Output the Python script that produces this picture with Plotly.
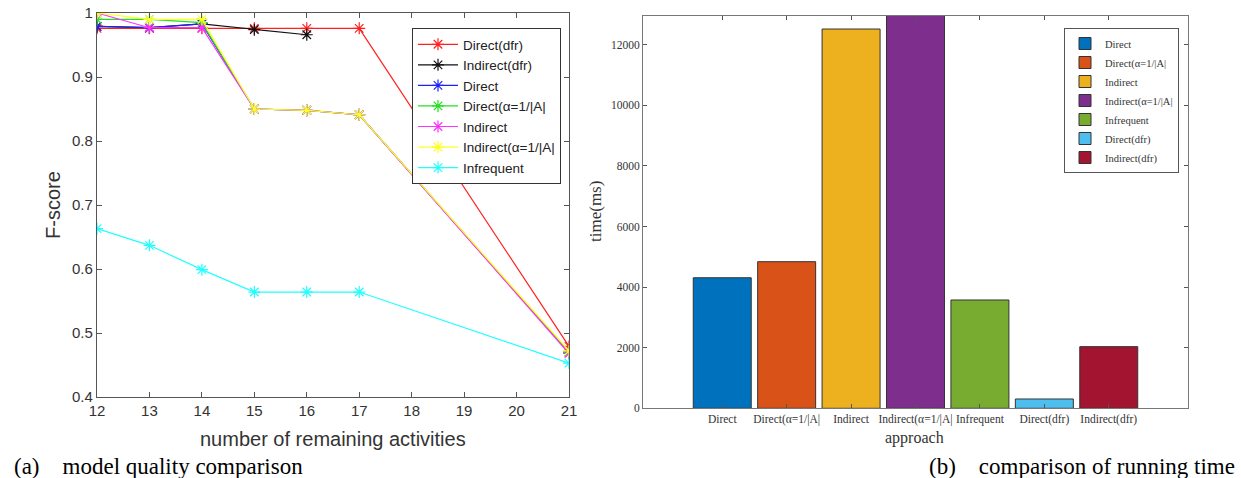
import plotly.graph_objects as go

W, H = 1241, 478

# ---- left chart data ----
x_acts = [12, 13, 14, 15, 16, 17, 21]
x_black = [12, 13, 14, 15, 16]
direct_dfr = [0.976, 0.976, 0.976, 0.976, 0.976, 0.976, 0.479]
indirect_dfr = [0.979, 0.977, 0.983, 0.974, 0.966]
direct = [0.979, 0.977, 0.983, 0.850, 0.848, 0.841, 0.470]
direct_alpha = [0.990, 0.990, 0.985, 0.850, 0.848, 0.841, 0.470]
indirect = [1.000, 0.977, 0.977, 0.850, 0.848, 0.841, 0.468]
indirect_alpha = [1.000, 0.990, 0.990, 0.850, 0.848, 0.841, 0.472]
infrequent = [0.663, 0.637, 0.599, 0.564, 0.564, 0.564, 0.453]

line_names = ["Direct(dfr)", "Indirect(dfr)", "Direct", "Direct(α=1/|A|",
              "Indirect", "Indirect(α=1/|A|", "Infrequent"]
line_x = [x_acts, x_black, x_acts, x_acts, x_acts, x_acts, x_acts]
line_y = [direct_dfr, indirect_dfr, direct, direct_alpha, indirect, indirect_alpha, infrequent]
line_colors = ["#ff2020", "#101010", "#2020ff", "#20e020", "#ff30ff", "#ffff20", "#20ffff"]

# ---- right chart data ----
approaches = ["Direct", "Direct(α=1/|A|", "Indirect", "Indirect(α=1/|A|",
              "Infrequent", "Direct(dfr)", "Indirect(dfr)"]
times_ms = [4310, 4840, 12520, 12980, 3575, 307, 2035]
bar_colors = ["#0072BD", "#D95319", "#EDB120", "#7E2F8E", "#77AC30", "#4DBEEE", "#A2142F"]

fig = go.Figure()

for nm, xs, ys, c in zip(line_names, line_x, line_y, line_colors):
    fig.add_trace(go.Scatter(
        x=xs, y=ys, name=nm, mode="lines+markers",
        line=dict(color=c, width=1.2),
        marker=dict(symbol="asterisk-open", size=10, color=c, line=dict(color=c, width=1.2)),
        xaxis="x", yaxis="y", legend="legend"))

for nm, t, c in zip(approaches, times_ms, bar_colors):
    fig.add_trace(go.Bar(
        x=[nm], y=[t], name=nm, marker=dict(color=c, line=dict(color="#333333", width=1)),
        width=0.9, xaxis="x2", yaxis="y2", legend="legend2"))

def px_x(p):
    return p / W

def px_y(p):
    return (H - p) / H

axis_line = "#555555"
sans = "Liberation Sans, Arial, sans-serif"
serif = "Liberation Serif, Times New Roman, serif"

def ann(text, x, y, font, angle=0, xanchor="center"):
    return dict(text=text, x=px_x(x), y=px_y(y), xref="paper", yref="paper",
                xanchor=xanchor, yanchor="middle", showarrow=False,
                textangle=angle, font=font)

fig.update_layout(
    width=W, height=H, margin=dict(l=0, r=0, t=0, b=0, autoexpand=False),
    paper_bgcolor="white", plot_bgcolor="white",
    barmode="overlay", showlegend=True,
    xaxis=dict(domain=[px_x(97), px_x(569)], anchor="y", range=[12, 21], dtick=1, tick0=12,
               ticks="inside", ticklen=5, tickcolor=axis_line, showline=True, linecolor=axis_line,
               linewidth=1.3, mirror="ticks", showgrid=False, zeroline=False, automargin=False,
               tickfont=dict(family=sans, size=15, color="#333333")),
    yaxis=dict(domain=[px_y(397), px_y(13)], anchor="x", range=[0.4, 1.0], dtick=0.1, tick0=0.4,
               ticks="inside", ticklen=5, tickcolor=axis_line, showline=True, linecolor=axis_line,
               linewidth=1.3, mirror="ticks", showgrid=False, zeroline=False, automargin=False,
               tickfont=dict(family=sans, size=15, color="#333333")),
    xaxis2=dict(domain=[px_x(643), px_x(1188)], anchor="y2", range=[-1.23, 7.23],
                type="category", categoryorder="array", categoryarray=approaches,
                ticks="inside", ticklen=4, tickcolor=axis_line, showline=True, linecolor="#777777",
                linewidth=1, mirror="ticks", showgrid=False, zeroline=False, automargin=False,
                tickfont=dict(family=serif, size=11.5, color="#333333")),
    yaxis2=dict(domain=[px_y(408.3), px_y(15.7)], anchor="x2", range=[0, 12960], dtick=2000, tick0=0,
                tickformat="d",
                ticks="inside", ticklen=4, tickcolor=axis_line, showline=True, linecolor="#777777",
                linewidth=1, mirror="ticks", showgrid=False, zeroline=False, automargin=False,
                tickfont=dict(family=serif, size=11.5, color="#333333")),
    legend=dict(x=px_x(412), y=px_y(28), xanchor="left", yanchor="top",
                bgcolor="white", bordercolor="#333333", borderwidth=1,
                font=dict(family=sans, size=13.5, color="#222222"),
                itemwidth=40, tracegroupgap=0),
    legend2=dict(x=px_x(1064), y=px_y(28), xanchor="left", yanchor="top",
                 bgcolor="white", bordercolor="#555555", borderwidth=1,
                 font=dict(family=serif, size=10.5, color="#333333"),
                 itemwidth=30, tracegroupgap=0),
    annotations=[
        ann("F-score", 53, 205, dict(family=sans, size=20, color="#333333"), angle=-90),
        ann("number of remaining activities", 333, 439, dict(family=sans, size=20, color="#333333")),
        ann("(a)    model quality comparison", 12, 466, dict(family=serif, size=23, color="black"), xanchor="left"),
        ann("time(ms)", 595, 212, dict(family=serif, size=17, color="#333333"), angle=-90),
        ann("approach", 915, 438, dict(family=serif, size=16, color="#333333")),
        ann("(b)    comparison of running time", 1237, 466, dict(family=serif, size=23, color="black"), xanchor="right"),
    ],
)

fig.write_html("out.html")
